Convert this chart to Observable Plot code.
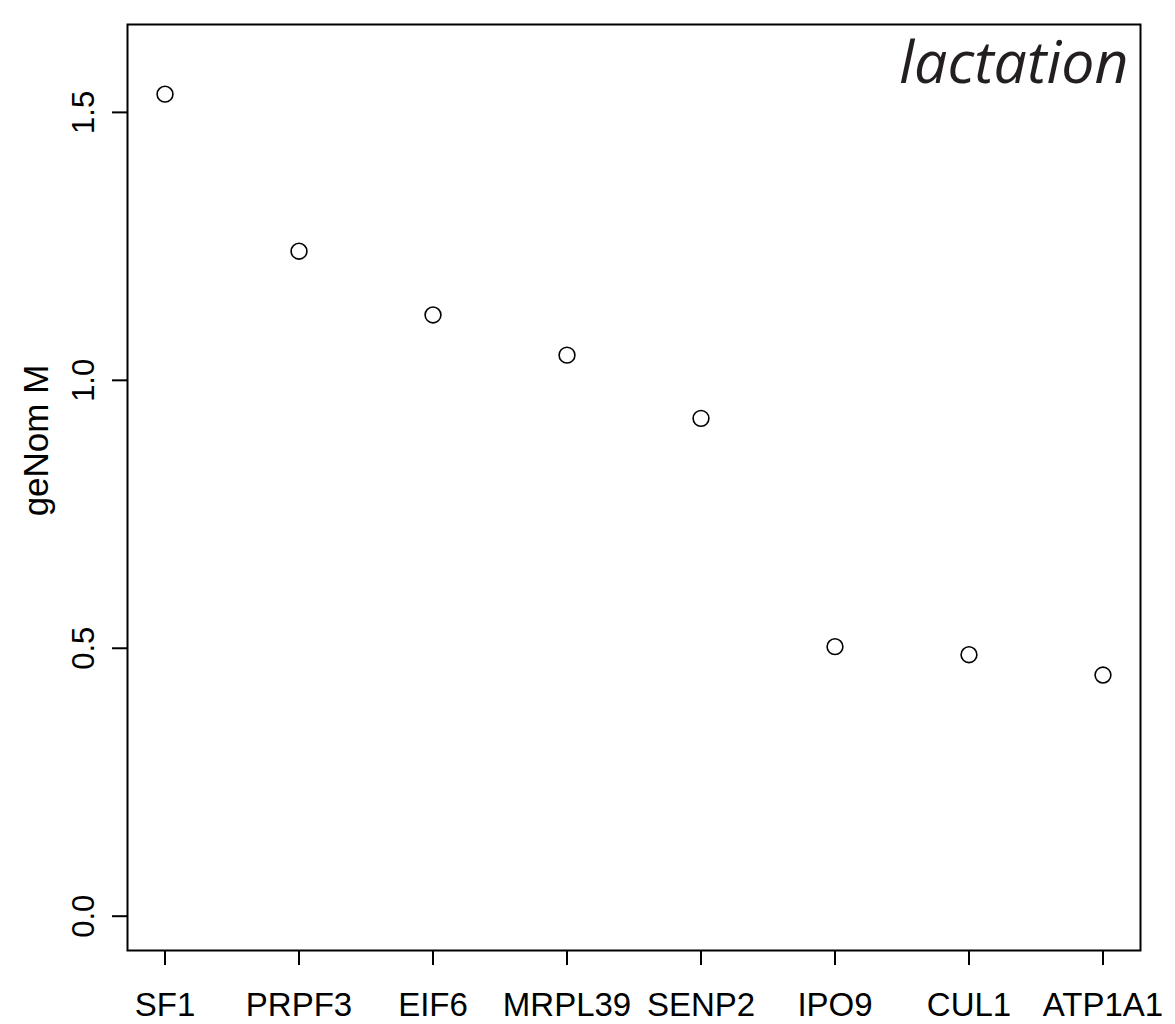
<!DOCTYPE html>
<html>
<head>
<meta charset="utf-8">
<script src="https://cdn.jsdelivr.net/npm/d3@7"></script>
<script src="https://cdn.jsdelivr.net/npm/@observablehq/plot@0.6"></script>
<style>
  html, body { margin: 0; padding: 0; background: #fff; }
  #chart svg { display: block; }
</style>
</head>
<body>
<div id="chart"></div>
<script>
const genes = ["SF1", "PRPF3", "EIF6", "MRPL39", "SENP2", "IPO9", "CUL1", "ATP1A1"];
const geNomM = [1.534, 1.241, 1.122, 1.047, 0.929, 0.503, 0.488, 0.450];
const yTicks = [0, 0.5, 1.0, 1.5];
const yLabel = "geNom M";
const panelTitle = "lactation";

const data = genes.map((g, i) => ({gene: g, idx: i + 1, m: geNomM[i]}));
const font = "'Liberation Sans', Arial, Helvetica, sans-serif";

const chart = Plot.plot({
  width: 1175,
  height: 1024,
  marginLeft: 127,
  marginRight: 35,
  marginTop: 24,
  marginBottom: 74,
  style: {fontFamily: font, fontSize: "32px", color: "black", background: "white"},
  x: {type: "linear", domain: [0.72, 8.28], axis: null},
  y: {type: "linear", domain: [-0.064, 1.664], axis: null},
  marks: [
    Plot.frame({stroke: "black", strokeWidth: 2}),
    Plot.axisX({
      ticks: d3.range(1, genes.length + 1),
      tickFormat: i => genes[i - 1],
      tickSize: 15,
      tickPadding: 27,
      strokeWidth: 2,
      fontSize: "33px",
      label: null
    }),
    Plot.axisY({
      ticks: yTicks,
      tickFormat: () => "",
      tickSize: 15,
      strokeWidth: 2,
      label: null
    }),
    Plot.text(yTicks, {
      y: d => d,
      text: d => d3.format(".1f")(d),
      frameAnchor: "left",
      dx: -34,
      rotate: -90,
      textAnchor: "middle",
      lineAnchor: "bottom",
      fontSize: "31px",
      fill: "black"
    }),
    Plot.text([yLabel], {
      text: d => d,
      frameAnchor: "left",
      dx: -80,
      dy: -47,
      rotate: -90,
      textAnchor: "middle",
      lineAnchor: "bottom",
      fontSize: "35px",
      fill: "black"
    }),
    Plot.dot(data, {
      x: "idx",
      y: "m",
      r: 7.9,
      stroke: "black",
      strokeWidth: 1.6,
      fill: "none"
    }),
    Plot.text([panelTitle], {
      text: d => d,
      frameAnchor: "top-right",
      dx: -12,
      dy: 17,
      textAnchor: "end",
      lineAnchor: "top",
      fontSize: "59px",
      fontStyle: "italic",
      fontFamily: "'Open Sans', 'Noto Sans', sans-serif",
      fill: "#231f20"
    })
  ]
});

document.getElementById("chart").appendChild(chart);
</script>
</body>
</html>
